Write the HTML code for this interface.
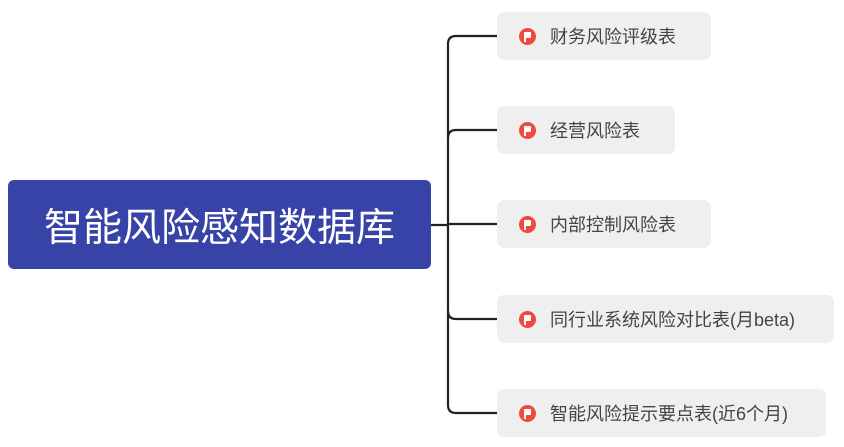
<!DOCTYPE html>
<html><head><meta charset="utf-8"><style>
body{margin:0;width:844px;height:447px;background:#fff;position:relative;overflow:hidden;font-family:"Liberation Sans","Noto Sans CJK SC",sans-serif}
.root{position:absolute;left:8px;top:180px;width:423px;height:89px;background:#3843a8;border-radius:6px;color:#fff;font-size:39px;display:flex;align-items:center;justify-content:center}
.n{position:absolute;left:497px;height:48px;background:#efefef;border-radius:7px;display:flex;align-items:center;font-size:18px;color:#444}
.ic{width:17px;height:17px;border-radius:50%;background:#ee4b3e;margin-left:22px;margin-right:14px;position:relative;flex:none}
.ic:after{content:"";position:absolute;left:5px;top:4px;width:7px;height:6px;background:#fff;border-radius:1px}
.ic:before{content:"";position:absolute;left:5px;top:4px;width:2px;height:10px;background:#fff}
</style></head><body>
<svg width="844" height="447" style="position:absolute;left:0;top:0">
<g fill="none" stroke="#222" stroke-width="2.2">
<path d="M431 225H448"/>
<path d="M497 36H456Q448 36 448 44V405Q448 413 456 413H497"/>
<path d="M497 130H456Q448 130 448 138"/>
<path d="M497 224H448"/>
<path d="M497 319H456Q448 319 448 311"/>
</g></svg>
<div class="root">智能风险感知数据库</div>
<div class="n" style="top:12px;width:214px"><span class="ic"></span>财务风险评级表</div>
<div class="n" style="top:106px;width:178px"><span class="ic"></span>经营风险表</div>
<div class="n" style="top:200px;width:214px"><span class="ic"></span>内部控制风险表</div>
<div class="n" style="top:295px;width:337px"><span class="ic"></span>同行业系统风险对比表(月beta)</div>
<div class="n" style="top:389px;width:329px"><span class="ic"></span>智能风险提示要点表(近6个月)</div>
</body></html>
